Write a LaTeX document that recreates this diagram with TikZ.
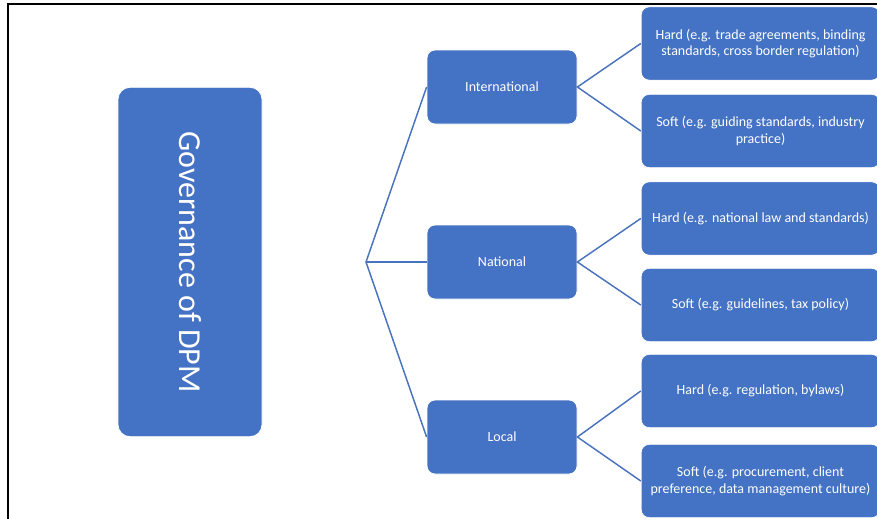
\documentclass[tikz,border=0pt]{standalone}
\usepackage{fontspec}
\setmainfont{Carlito}
\definecolor{ofblue}{HTML}{4472C4}
\definecolor{linkblue}{HTML}{4A73BD}
\tikzset{
  box/.style={rounded corners=6pt, fill=ofblue, draw=white, line width=0.6pt,
    text=white, align=center, inner sep=2pt, font=\fontsize{10.5}{12.5}\selectfont},
  midbox/.style={box, minimum width=112.5pt, minimum height=55.5pt},
  leafbox/.style={box, minimum width=179pt, minimum height=55pt},
  link/.style={draw=linkblue, line width=1.1pt},
  frame/.style={draw=black, line width=1.5pt}
}
\begin{document}
\begin{tikzpicture}[x=0.75pt,y=-0.75pt]
  \useasboundingbox (0,0) rectangle (877,518);
  \clip (0,0) rectangle (877,518);
  \fill[white] (0,0) rectangle (877,518);
  % page frame (only top and left edges are in view)
  \draw[frame] (7.5,530) -- (7.5,4) -- (890,4);

  % root
  \node[box, rotate=-90, rounded corners=9pt, minimum width=262pt, minimum height=108pt,
        font=\fontsize{24}{28}\selectfont] (gov) at (190,262) {Governance of DPM};

  % levels
  \coordinate (br) at (366,262);
  \node[midbox] (intl) at (502,87) {International};
  \node[midbox] (nat) at (502,262) {National};
  \node[midbox] (loc) at (502,437) {Local};

  % instruments
  \node[leafbox] (h1) at (760.5,43.5) {Hard (e.g. trade agreements, binding\\standards, cross border regulation)};
  \node[leafbox] (s1) at (760.5,131) {Soft (e.g. guiding standards, industry\\practice)};
  \node[leafbox] (h2) at (760.5,218.5) {Hard (e.g. national law and standards)};
  \node[leafbox] (s2) at (760.5,305) {Soft (e.g. guidelines, tax policy)};
  \node[leafbox] (h3) at (760.5,391) {Hard (e.g. regulation, bylaws)};
  \node[leafbox] (s3) at (760.5,481) {Soft (e.g. procurement, client\\preference, data management culture)};

  % connectors
  \draw[link] (intl.west) -- (br) -- (loc.west);
  \draw[link] (br) -- (nat.west);
  \draw[link] (h1.west) -- (intl.east) -- (s1.west);
  \draw[link] (h2.west) -- (nat.east) -- (s2.west);
  \draw[link] (h3.west) -- (loc.east) -- (s3.west);
\end{tikzpicture}
\end{document}
